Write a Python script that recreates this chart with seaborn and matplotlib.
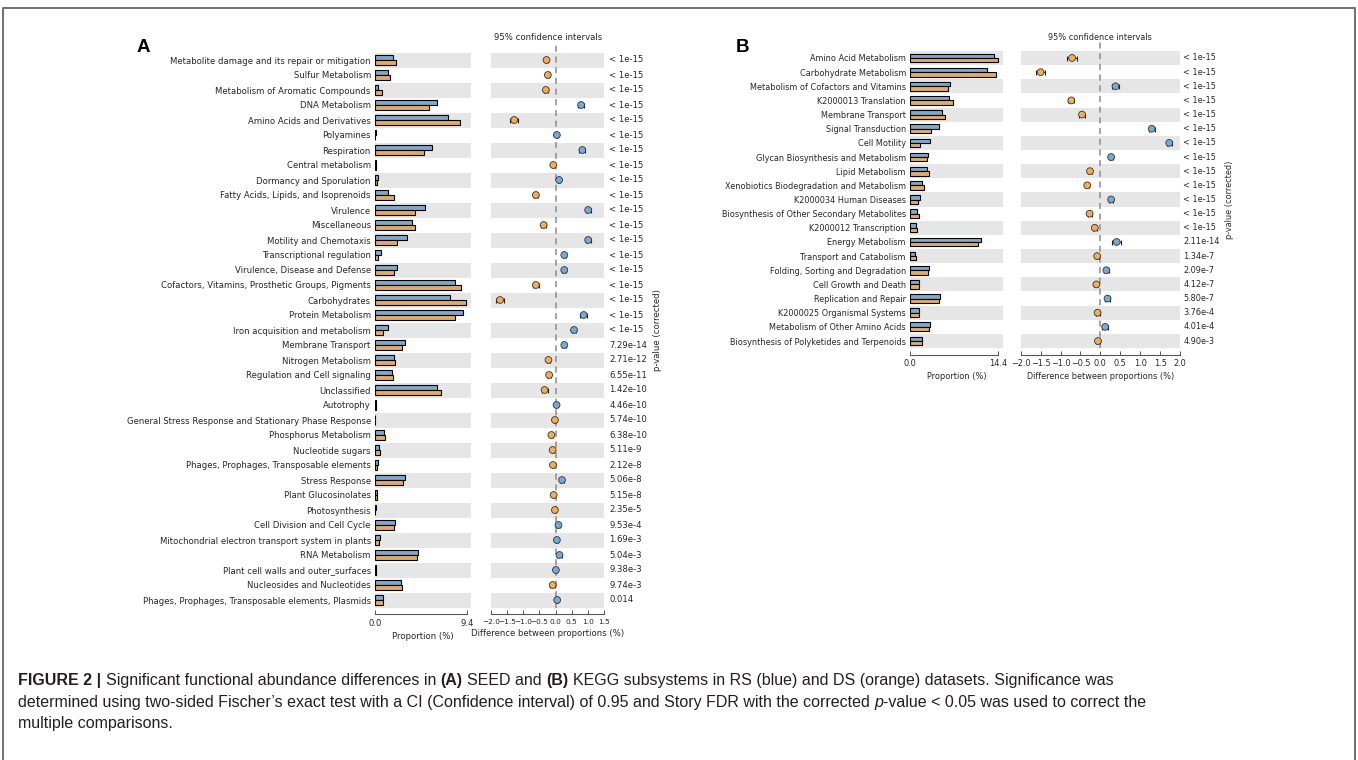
import numpy as np
import pandas as pd
import matplotlib
matplotlib.use("Agg")
import matplotlib.pyplot as plt
import matplotlib.transforms as mtransforms
from matplotlib import font_manager
from matplotlib.lines import Line2D
import seaborn as sns

# ---------------- panel A : SEED subsystems ----------------
seed_names = [
    "Metabolite damage and its repair or mitigation", "Sulfur Metabolism",
    "Metabolism of Aromatic Compounds", "DNA Metabolism", "Amino Acids and Derivatives",
    "Polyamines", "Respiration", "Central metabolism", "Dormancy and Sporulation",
    "Fatty Acids, Lipids, and Isoprenoids", "Virulence", "Miscellaneous",
    "Motility and Chemotaxis", "Transcriptional regulation",
    "Virulence, Disease and Defense", "Cofactors, Vitamins, Prosthetic Groups, Pigments",
    "Carbohydrates", "Protein Metabolism", "Iron acquisition and metabolism",
    "Membrane Transport", "Nitrogen Metabolism", "Regulation and Cell signaling",
    "Unclassified", "Autotrophy", "General Stress Response and Stationary Phase Response",
    "Phosphorus Metabolism", "Nucleotide sugars", "Phages, Prophages, Transposable elements",
    "Stress Response", "Plant Glucosinolates", "Photosynthesis", "Cell Division and Cell Cycle",
    "Mitochondrial electron transport system in plants", "RNA Metabolism",
    "Plant cell walls and outer_surfaces", "Nucleosides and Nucleotides",
    "Phages, Prophages, Transposable elements, Plasmids",
]
seed_rs = [1.87, 1.29, 0.34, 6.33, 7.41, 0.06, 5.82, 0.12, 0.30, 1.33, 5.07, 3.78,
           3.23, 0.58, 2.21, 8.20, 7.65, 9.01, 1.33, 3.03, 1.90, 1.70, 6.33, 0.10,
           0.05, 0.88, 0.44, 0.28, 3.10, 0.24, 0.06, 2.04, 0.48, 4.42, 0.07, 2.69, 0.80]
seed_ds = [2.14, 1.53, 0.71, 5.54, 8.67, 0.05, 5.00, 0.15, 0.24, 1.97, 4.05, 4.12,
           2.21, 0.31, 1.90, 8.81, 9.35, 8.13, 0.78, 2.76, 2.07, 1.87, 6.70, 0.09,
           0.05, 1.02, 0.54, 0.24, 2.86, 0.22, 0.05, 1.90, 0.44, 4.25, 0.06, 2.79, 0.80]
seed_diff = [-0.28, -0.24, -0.30, 0.79, -1.28, 0.04, 0.83, -0.07, 0.11, -0.61, 1.01, -0.37,
             1.01, 0.27, 0.27, -0.61, -1.72, 0.87, 0.57, 0.27, -0.22, -0.20, -0.34, 0.03,
             -0.02, -0.13, -0.09, -0.08, 0.20, -0.06, -0.02, 0.09, 0.04, 0.12, 0.01, -0.09, 0.05]
seed_ci = [0.06, 0.05, 0.05, 0.09, 0.13, 0.02, 0.09, 0.02, 0.03, 0.06, 0.08, 0.07,
           0.08, 0.04, 0.06, 0.10, 0.13, 0.10, 0.05, 0.06, 0.06, 0.06, 0.09, 0.02,
           0.02, 0.04, 0.03, 0.02, 0.07, 0.02, 0.02, 0.06, 0.03, 0.08, 0.02, 0.07, 0.04]
seed_p = ["< 1e-15"] * 19 + ["7.29e-14", "2.71e-12", "6.55e-11", "1.42e-10", "4.46e-10",
                            "5.74e-10", "6.38e-10", "5.11e-9", "2.12e-8", "5.06e-8", "5.15e-8",
                            "2.35e-5", "9.53e-4", "1.69e-3", "5.04e-3", "9.38e-3", "9.74e-3",
                            "0.014"]

# ---------------- panel B : KEGG subsystems ----------------
kegg_names = [
    "Amino Acid Metabolism", "Carbohydrate Metabolism", "Metabolism of Cofactors and Vitamins",
    "K2000013 Translation", "Membrane Transport", "Signal Transduction", "Cell Motility",
    "Glycan Biosynthesis and Metabolism", "Lipid Metabolism",
    "Xenobiotics Biodegradation and Metabolism", "K2000034 Human Diseases",
    "Biosynthesis of Other Secondary Metabolites", "K2000012 Transcription",
    "Energy Metabolism", "Transport and Catabolism", "Folding, Sorting and Degradation",
    "Cell Growth and Death", "Replication and Repair", "K2000025 Organismal Systems",
    "Metabolism of Other Amino Acids", "Biosynthesis of Polyketides and Terpenoids",
]
kegg_rs = [13.70, 12.55, 6.52, 6.30, 5.22, 4.78, 3.32, 2.99, 2.77, 1.90, 1.58,
           1.09, 1.03, 11.52, 0.82, 3.10, 1.41, 4.89, 1.47, 3.20, 1.98]
kegg_ds = [14.35, 14.08, 6.14, 7.01, 5.71, 3.48, 1.58, 2.77, 3.10, 2.23, 1.36,
           1.41, 1.14, 11.09, 0.92, 2.99, 1.52, 4.67, 1.45, 3.18, 1.93]
kegg_diff = [-0.71, -1.50, 0.38, -0.73, -0.46, 1.29, 1.73, 0.27, -0.26, -0.33, 0.27,
             -0.27, -0.14, 0.41, -0.08, 0.15, -0.10, 0.18, -0.07, 0.12, -0.06]
kegg_ci = [0.12, 0.12, 0.08, 0.08, 0.08, 0.07, 0.06, 0.06, 0.06, 0.05, 0.05,
           0.05, 0.05, 0.12, 0.04, 0.06, 0.05, 0.07, 0.05, 0.07, 0.05]
kegg_p = ["< 1e-15"] * 13 + ["2.11e-14", "1.34e-7", "2.09e-7", "4.12e-7", "5.80e-7",
                            "3.76e-4", "4.01e-4", "4.90e-3"]

BLUE = "#74a9d8"
ORANGE = "#f5ad52"
BAND = "#e6e6e6"
TXT = "#262626"

plt.rcParams["font.family"] = ["DejaVu Sans"]
W, H = 1358, 760
fig = plt.figure(figsize=(W / 100, H / 100), dpi=100)


def fx(px):
    return px / W


def fy(py):
    return 1 - py / H


def panel(bar_box, diff_box, names, rs, ds, diff, ci, pvals, bar_max, bar_lim,
          dticks, dlim, pv_x, fs, dtick_fs):
    n = len(names)
    ax_b = fig.add_axes([fx(bar_box[0]), fy(bar_box[3]), fx(bar_box[1] - bar_box[0]),
                         (bar_box[3] - bar_box[2]) / H])
    ax_d = fig.add_axes([fx(diff_box[0]), fy(bar_box[3]), fx(diff_box[1] - diff_box[0]),
                         (bar_box[3] - bar_box[2]) / H])
    for ax in (ax_b, ax_d):
        for i in range(0, n, 2):
            ax.axhspan(i - 0.5, i + 0.5, color=BAND, lw=0, zorder=0)

    df = pd.DataFrame({"name": names * 2, "prop": rs + ds, "set": ["RS"] * n + ["DS"] * n})
    sns.barplot(data=df, y="name", x="prop", hue="set", order=names, hue_order=["RS", "DS"],
                palette=[BLUE, ORANGE], orient="h", width=0.62, edgecolor="black",
                linewidth=0.8, legend=False, ax=ax_b, zorder=2)
    ax_b.set_xlim(0, bar_lim)
    ax_b.set_ylim(n - 0.5, -0.5)
    ax_b.set_xticks([0, bar_max])
    ax_b.set_xticklabels(["0.0", f"{bar_max:.1f}"])
    ax_b.set_xlabel("Proportion (%)", fontsize=fs, color=TXT, labelpad=3)
    ax_b.set_ylabel("")

    pos = np.arange(n)
    grp = ["RS" if d > 0 else "DS" for d in diff]
    ax_d.axvline(0, ymin=0, ymax=1 + 9 / (bar_box[3] - bar_box[2]), color="#8c8c8c",
                 lw=1.1, ls=(0, (4, 3)), zorder=1, clip_on=False)
    ax_d.errorbar(diff, pos, xerr=ci, fmt="none", ecolor="#222222", elinewidth=0.8,
                  capsize=1.8, capthick=0.8, zorder=3)
    sns.scatterplot(x=diff, y=pos, hue=grp, palette={"RS": BLUE, "DS": ORANGE}, s=24,
                    edgecolor="#333333", linewidth=0.6, legend=False, ax=ax_d, zorder=4)
    ax_d.set_xlim(*dlim)
    ax_d.set_ylim(n - 0.5, -0.5)
    ax_d.set_yticks([])
    ax_d.set_ylabel("")
    ax_d.set_xticks(dticks)
    ax_d.set_xlabel("Difference between proportions (%)", fontsize=fs, color=TXT, labelpad=3)
    tr = mtransforms.blended_transform_factory(ax_d.transAxes, ax_d.transData)
    for i, p in enumerate(pvals):
        ax_d.text(pv_x, i, p, transform=tr, ha="left", va="center", fontsize=fs, color=TXT)

    for ax, lo, hi, tfs in ((ax_b, 0, bar_max, fs), (ax_d, dlim[0], dlim[1], dtick_fs)):
        for s in ("left", "top", "right"):
            ax.spines[s].set_visible(False)
        ax.spines["bottom"].set_position(("outward", 5))
        ax.spines["bottom"].set_bounds(lo, hi)
        ax.spines["bottom"].set_color("#555555")
        ax.spines["bottom"].set_linewidth(0.8)
        ax.set_facecolor("none")
        ax.tick_params(axis="x", direction="in", length=3, width=0.7, labelsize=tfs,
                       labelcolor=TXT, pad=3, color="#555555")
    ax_b.tick_params(axis="y", length=0, labelsize=fs, labelcolor=TXT, pad=3)
    return ax_b, ax_d


# panel A
panel((375, 471, 52.5, 607.5), (491, 604), seed_names, seed_rs, seed_ds, seed_diff, seed_ci,
      seed_p, 9.4, 9.81, np.arange(-2.0, 1.51, 0.5), (-2.0, 1.5), 1.045, 6.1, 5.3)
# panel B
panel((910, 1003, 50.9, 348.1), (1020.7, 1180), kegg_names, kegg_rs, kegg_ds, kegg_diff,
      kegg_ci, kegg_p, 14.4, 15.17, np.arange(-2.0, 2.01, 0.5), (-2.0, 2.0), 1.02, 5.9, 5.9)

fig.text(fx(548), fy(37), "95% confidence intervals", ha="center", va="center", fontsize=6.1, color=TXT)
fig.text(fx(1100), fy(37), "95% confidence intervals", ha="center", va="center", fontsize=5.9, color=TXT)
fig.text(fx(657), fy(330), "p-value (corrected)", rotation=90, ha="center", va="center", fontsize=6.1, color=TXT)
fig.text(fx(1230), fy(200), "p-value (corrected)", rotation=90, ha="center", va="center", fontsize=5.9, color=TXT)

fig.text(fx(137), fy(47), "A", fontsize=13.5, fontweight="bold", family=["Liberation Sans", "DejaVu Sans"],
         ha="left", va="center", color="black")
fig.text(fx(736), fy(47), "B", fontsize=13.5, fontweight="bold", family=["Liberation Sans", "DejaVu Sans"],
         ha="left", va="center", color="black")

# outer frame
fig.add_artist(Line2D([fx(3), fx(3), fx(1355), fx(1355)], [0, fy(8), fy(8), 0],
                      transform=fig.transFigure, color="#707070", lw=1.4))

# caption
try:
    font_manager.findfont("Liberation Sans Narrow", fallback_to_default=False)
    CAP_FAM = ["Liberation Sans Narrow", "DejaVu Sans"]
    CAP_FS = 12.3
except Exception:
    CAP_FAM = ["Liberation Sans", "DejaVu Sans"]
    CAP_FS = 11.5
CAP_COL = "#231f20"

renderer = fig.canvas.get_renderer()


def text_w(s, **kw):
    t = fig.text(0, 0, s, fontsize=CAP_FS, family=CAP_FAM, **kw)
    w = t.get_window_extent(renderer=renderer).width
    t.remove()
    return w


space = text_w("a a") - text_w("aa")


def caption_line(y_px, runs):
    x = 18.0
    for k, (s, kw, join) in enumerate(runs):
        if k > 0 and not join:
            x += space
        t = fig.text(fx(x), fy(y_px), s, fontsize=CAP_FS, family=CAP_FAM, color=CAP_COL,
                     ha="left", va="baseline", **kw)
        x += t.get_window_extent(renderer=renderer).width


B = {"fontweight": "bold"}
N = {}
caption_line(685, [("FIGURE 2 |", B, False),
                   ("Significant functional abundance differences in", N, False),
                   ("(A)", B, False), ("SEED and", N, False), ("(B)", B, False),
                   ("KEGG subsystems in RS (blue) and DS (orange) datasets. Significance was", N, False)])
caption_line(707, [("determined using two-sided Fischer\u2019s exact test with a CI (Confidence interval) "
                    "of 0.95 and Story FDR with the corrected", N, False),
                   ("p", {"fontstyle": "italic"}, False),
                   ("-value < 0.05 was used to correct the", N, True)])
caption_line(728, [("multiple comparisons.", N, False)])

fig.savefig("out.png", dpi=100)
